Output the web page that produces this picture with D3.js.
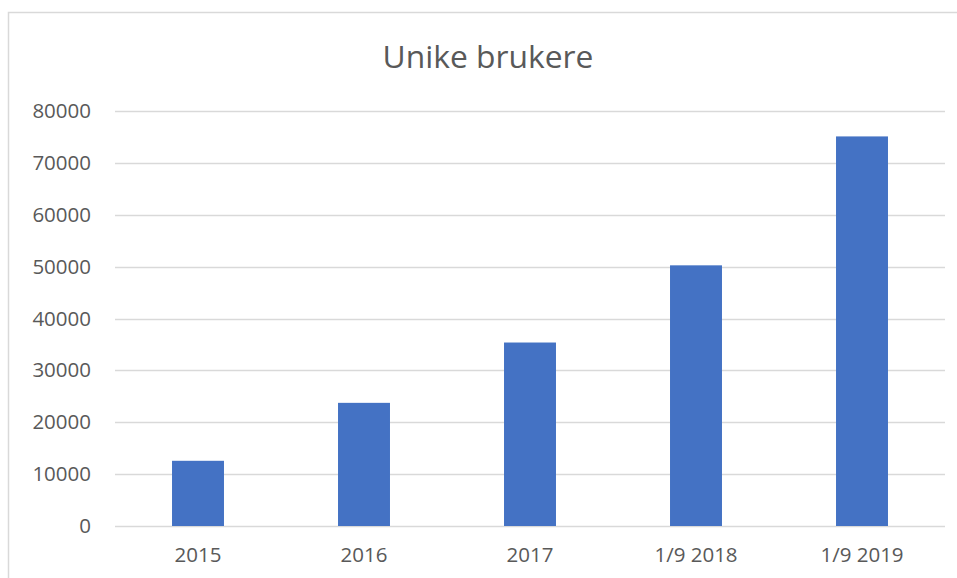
<!DOCTYPE html>
<html lang="no">
<head>
  <meta charset="UTF-8">
  <title>Unike brukere</title>
  <script src="https://d3js.org/d3.v7.min.js"></script>
  <style>
    body { margin: 0; background: #fff; }
    text { font-family: "Open Sans", sans-serif; fill: #595959; }
  </style>
</head>
<body>
  <div class="canvas"></div>
  <script>
    // data
    const categories = ["2015", "2016", "2017", "1/9 2018", "1/9 2019"];
    const users = [12570, 23740, 35370, 50250, 75100];
    const yTicks = [0, 10000, 20000, 30000, 40000, 50000, 60000, 70000, 80000];

    const width = 957;
    const height = 578;
    const [ml, mr, mt, mb] = [115, 12, 111, 52];

    const svg = d3.select('.canvas')
      .append('svg')
      .attr('width', width)
      .attr('height', height);

    // chart area border
    svg.append('rect')
      .attr('x', 8.5)
      .attr('y', 12.5)
      .attr('width', width + 20)
      .attr('height', height + 20)
      .attr('fill', 'none')
      .attr('stroke', '#d9d9d9')
      .attr('stroke-width', 1.5);

    const graphWidth = width - ml - mr;
    const graphHeight = height - mt - mb;

    const graph = svg.append('g')
      .attr('transform', `translate(${ml}, ${mt})`);

    const x = d3.scaleBand()
      .domain(categories)
      .range([0, graphWidth]);

    const y = d3.scaleLinear()
      .domain([0, 80000])
      .range([graphHeight, 0]);

    // gridlines
    graph.append('g')
      .selectAll('line')
      .data(yTicks)
      .enter()
      .append('line')
      .attr('x1', 0)
      .attr('x2', graphWidth)
      .attr('y1', d => Math.round(y(d)) + 0.5)
      .attr('y2', d => Math.round(y(d)) + 0.5)
      .attr('stroke', '#d9d9d9')
      .attr('stroke-width', 1.5);

    // y axis labels
    const yAxis = d3.axisLeft(y).tickValues(yTicks).tickSize(0).tickPadding(24)
      .tickFormat(d3.format('d'));
    const yAxisG = graph.append('g').call(yAxis);
    yAxisG.select('.domain').remove();
    yAxisG.selectAll('text').attr('font-size', 20.5).attr('fill', '#595959')
      .attr('font-family', '"Open Sans", sans-serif');

    // bars
    const barW = x.bandwidth() * 0.313;
    graph.selectAll('.bar')
      .data(users)
      .enter()
      .append('rect')
      .attr('class', 'bar')
      .attr('x', (d, i) => x(categories[i]) + (x.bandwidth() - barW) / 2)
      .attr('y', d => y(d))
      .attr('width', barW)
      .attr('height', d => graphHeight - y(d))
      .attr('fill', '#4472c4');

    // x axis labels
    const xAxis = d3.axisBottom(x).tickSize(0).tickPadding(21);
    const xAxisG = graph.append('g')
      .attr('transform', `translate(0, ${graphHeight})`)
      .call(xAxis);
    xAxisG.select('.domain').remove();
    xAxisG.selectAll('text').attr('font-size', 20.5).attr('fill', '#595959')
      .attr('font-family', '"Open Sans", sans-serif');

    // title
    svg.append('text')
      .attr('x', 488)
      .attr('y', 68)
      .attr('text-anchor', 'middle')
      .attr('font-size', 31.8)
      .text('Unike brukere');
  </script>
</body>
</html>
